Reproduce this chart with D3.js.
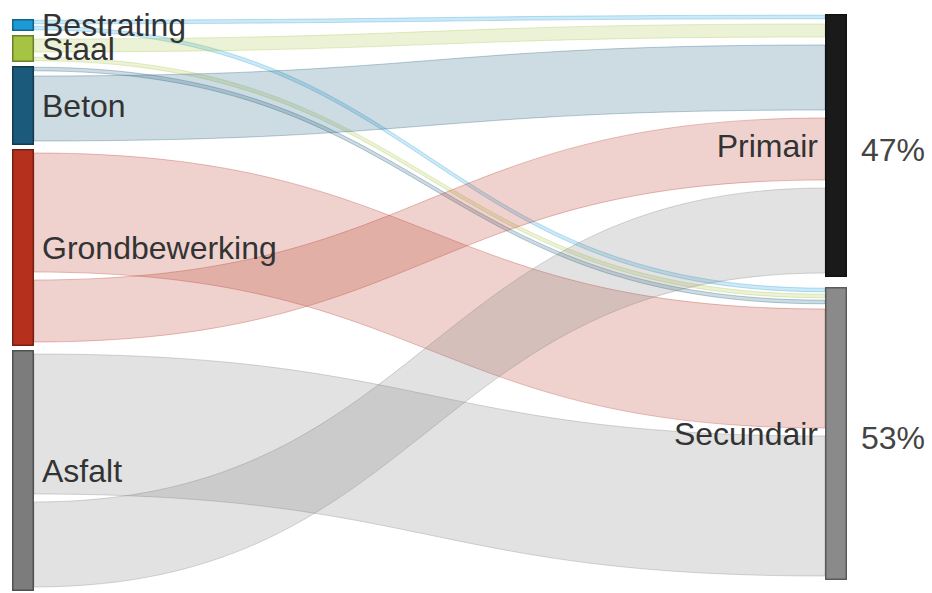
<!DOCTYPE html>
<html>
<head>
<meta charset="utf-8">
<script src="https://cdn.jsdelivr.net/npm/d3@7"></script>
<style>
  body { margin: 0; background: #fff; }
  text { font-family: "Liberation Sans", Arial, sans-serif; }
</style>
</head>
<body>
<div id="chart"></div>
<script>
//----------------------------------
// Data
//----------------------------------
const sources = ["Bestrating", "Staal", "Beton", "Grondbewerking", "Asfalt"];
const sourceColors = ["#1b9ad6", "#a6c444", "#1b5a7a", "#b5311e", "#7c7c7c"];

const targets = ["Primair", "Secundair"];
const targetColors = ["#1a1a1a", "#8a8a8a"];

// links, listed in the order they leave each source node
const linkSource = ["Bestrating", "Bestrating", "Staal", "Staal", "Beton", "Beton",
                    "Grondbewerking", "Grondbewerking", "Asfalt", "Asfalt"];
const linkTarget = ["Primair", "Secundair", "Primair", "Secundair", "Secundair", "Primair",
                    "Secundair", "Primair", "Secundair", "Primair"];
const linkValue  = [6, 6, 21, 6, 6, 73, 127, 70, 148, 93];

//----------------------------------
// SVG Section
//----------------------------------
const width = 932, height = 593;
const nodeWidth = 22;
const leftCol  = {x: 12,  top: 19, padding: 4};
const rightCol = {x: 825, top: 14, padding: 10};
const usable = 556;     // pixel height taken up by the node values
const inset = 4;        // white gap around each link band

const svg = d3.select("#chart")
    .append("svg")
    .attr("width", width)
    .attr("height", height);

const total = d3.sum(linkValue);
const yScale = d3.scaleLinear().domain([0, total]).range([0, usable]);

// Build node objects
function buildColumn(names, colors, col, key) {
    let y = col.top;
    return names.map((name, i) => {
        const value = d3.sum(linkValue.filter((v, j) => (key === "s" ? linkSource[j] : linkTarget[j]) === name));
        const node = {name, color: colors[i], value, x0: col.x, x1: col.x + nodeWidth, y0: y, y1: y + yScale(value), offset: 0};
        y = node.y1 + col.padding;
        return node;
    });
}
const leftNodes = buildColumn(sources, sourceColors, leftCol, "s");
const rightNodes = buildColumn(targets, targetColors, rightCol, "t");
const nodeByName = new Map([...leftNodes, ...rightNodes].map(n => [n.name, n]));

// Stack links on the source side in data order
const links = linkValue.map((v, i) => {
    const s = nodeByName.get(linkSource[i]);
    const h = yScale(v);
    const l = {source: s, target: nodeByName.get(linkTarget[i]), value: v, h, sy: s.y0 + s.offset};
    s.offset += h;
    return l;
});
// Stack on the target side in source-node order
targets.forEach(t => {
    const tn = nodeByName.get(t);
    sources.forEach(sName => {
        links.filter(l => l.target === tn && l.source.name === sName).forEach(l => {
            l.ty = tn.y0 + tn.offset;
            tn.offset += l.h;
        });
    });
});

// Ribbon shape between source and target
function ribbon(l) {
    const g = Math.min(inset, l.h * 0.2);
    const x0 = l.source.x1, x1 = l.target.x0, xm = (x0 + x1) / 2;
    const s0 = l.sy + g, s1 = l.sy + l.h - g;
    const t0 = l.ty + g, t1 = l.ty + l.h - g;
    const p = d3.path();
    p.moveTo(x0, s0);
    p.bezierCurveTo(xm, s0, xm, t0, x1, t0);
    p.lineTo(x1, t1);
    p.bezierCurveTo(xm, t1, xm, s1, x0, s1);
    p.closePath();
    return p.toString();
}

svg.append("g")
    .selectAll("path")
    .data(links)
    .join("path")
    .attr("d", ribbon)
    .attr("fill", d => d.source.color)
    .attr("fill-opacity", 0.22)
    .attr("stroke", d => d.source.color)
    .attr("stroke-opacity", 0.3)
    .attr("stroke-width", 1);

// Nodes
svg.append("g")
    .selectAll("rect")
    .data([...leftNodes, ...rightNodes])
    .join("rect")
    .attr("x", d => d.x0 + 0.75)
    .attr("y", d => d.y0 + 0.75)
    .attr("width", nodeWidth - 1.5)
    .attr("height", d => d.y1 - d.y0 - 1.5)
    .attr("fill", d => d.color)
    .attr("stroke", d => d3.color(d.color).darker(1.2))
    .attr("stroke-width", 1.5);

// Labels
svg.append("g")
    .selectAll("text")
    .data(leftNodes)
    .join("text")
    .attr("x", d => d.x1 + 8)
    .attr("y", d => (d.y0 + d.y1) / 2)
    .attr("dy", "0.35em")
    .attr("fill", "#333")
    .style("font-size", "32px")
    .text(d => d.name);

svg.append("g")
    .selectAll("text")
    .data(rightNodes)
    .join("text")
    .attr("x", d => d.x0 - 7)
    .attr("y", d => (d.y0 + d.y1) / 2)
    .attr("dy", "0.35em")
    .attr("text-anchor", "end")
    .attr("fill", "#333")
    .style("font-size", "32px")
    .text(d => d.name);

const targetTotal = d3.sum(rightNodes, d => d.value);
svg.append("g")
    .selectAll("text")
    .data(rightNodes)
    .join("text")
    .attr("x", d => d.x1 + 14)
    .attr("y", d => (d.y0 + d.y1) / 2 + 4)
    .attr("dy", "0.35em")
    .attr("fill", "#444")
    .style("font-size", "32px")
    .text(d => Math.round(d.value / targetTotal * 100) + "%");
</script>
</body>
</html>
